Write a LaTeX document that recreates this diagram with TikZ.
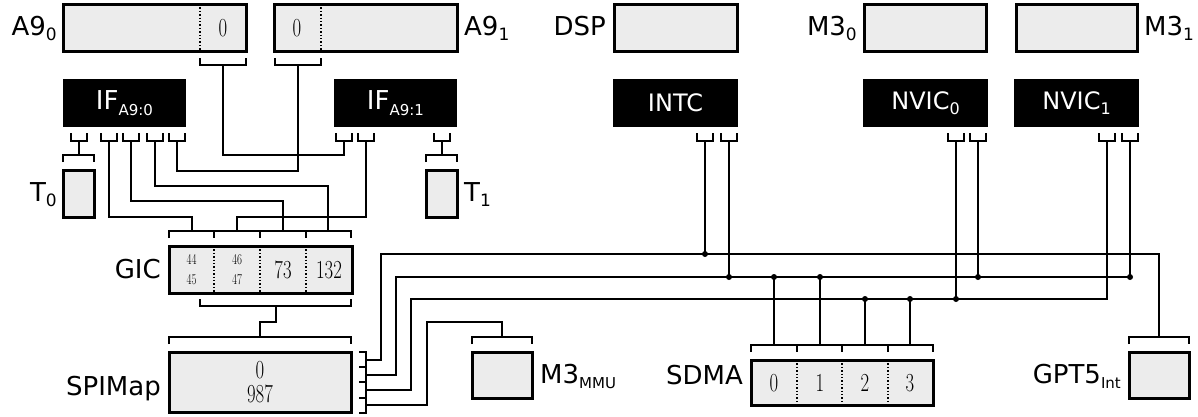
\documentclass[tikz,border=0pt]{standalone}
\usepackage{fontspec}
\newfontfamily\lab{DejaVu Sans}
\definecolor{boxgray}{RGB}{236,236,236}
\newcommand\sub[2][17]{\raisebox{-0.22em}{\fontsize{#1}{#1}\selectfont #2}}
\newcommand\num[2][26]{\scalebox{0.72}[1]{\fontsize{#1}{#1}\selectfont #2}}
\newcommand\mkbox[7]{\node[#1, minimum width={(#4)-(#2)}, minimum height={(#5)-(#3)}] (#6) at ({((#2)+(#4))/2},{((#3)+(#5))/2}) {#7};}
\newcommand\brdown[3]{\draw[wire] (#1,{#3+7}) -- (#1,#3) -- (#2,#3) -- (#2,{#3+7});}
\newcommand\brup[3]{\draw[wire] (#1,{#3-7}) -- (#1,#3) -- (#2,#3) -- (#2,{#3-7});}
\begin{document}
\begin{tikzpicture}[x=1pt,y=-1pt,
 gbox/.style={draw, line width=3pt, fill=boxgray, inner sep=0pt},
 bbox/.style={fill=black, text=white, inner sep=0pt, font=\lab\fontsize{24}{24}\selectfont},
 wire/.style={line width=2.4pt},
 divider/.style={line width=1.4pt, dotted},
 lab/.style={font=\lab\fontsize{26}{26}\selectfont, inner sep=0pt},
 port/.pic={\draw[wire] (-8,0) -- (-8,8) -- (8,8) -- (8,0); \coordinate (-c) at (0,8);},
]
\useasboundingbox (0,0) rectangle (1198,416);
% boxes
\mkbox{gbox}{63}{4}{246}{51}{a90}{}
\draw[divider] (200,4) -- (200,51);
\node (a90n) at (223,28) {\num{0}};
\mkbox{gbox}{274}{4}{457}{51}{a91}{}
\draw[divider] (321,4) -- (321,51);
\node (a91n) at (297,28) {\num{0}};
\mkbox{gbox}{614}{4}{737}{51}{dsp}{}
\mkbox{gbox}{864}{4}{986}{51}{m30}{}
\mkbox{gbox}{1016}{4}{1137}{51}{m31}{}
\mkbox{bbox}{63}{79}{186}{127}{if0}{\fontsize{26}{26}\selectfont IF\sub[15]{A9:0}}
\mkbox{bbox}{334}{79}{457}{127}{if1}{\fontsize{26}{26}\selectfont IF\sub[15]{A9:1}}
\mkbox{bbox}{613}{79}{738}{127}{intc}{INTC}
\mkbox{bbox}{863}{79}{988}{127}{nvic0}{NVIC\sub[16]{0}}
\mkbox{bbox}{1014}{79}{1139}{127}{nvic1}{NVIC\sub[16]{1}}
\mkbox{gbox}{63}{170}{94}{217}{t0}{}
\mkbox{gbox}{426}{170}{457}{217}{t1}{}
\mkbox{gbox}{169}{246}{352}{293}{gic}{}
\foreach \x in {214,260,306} \draw[divider] (\x,246) -- (\x,293);
\node (g44) at (191.5,259.5) {\num[15]{44}};
\node (g45) at (191.5,279.5) {\num[15]{45}};
\node (g46) at (237,259.5) {\num[15]{46}};
\node (g47) at (237,279.5) {\num[15]{47}};
\node (g73) at (283,270) {\num{73}};
\node (g132) at (329,270) {\num{132}};
\mkbox{gbox}{169}{352}{351}{412}{spi}{}
\node (s0) at (260,370) {\num{0}};
\node (s987) at (260,394) {\num{987}};
\mkbox{gbox}{472}{352}{532}{398}{mmu}{}
\mkbox{gbox}{751}{360}{933}{405}{sdma}{}
\foreach \x in {797,842,888} \draw[divider] (\x,360) -- (\x,405);
\node (sd0n) at (774,383) {\num{0}};
\node (sd1n) at (820,383) {\num{1}};
\node (sd2n) at (865,383) {\num{2}};
\node (sd3n) at (910,383) {\num{3}};
\mkbox{gbox}{1129}{352}{1189}{398}{gpt}{}
% labels
\node[lab, anchor=base east] (la90) at (57,35) {A9\sub{0}};
\node[lab, anchor=base west] (la91) at (464,35) {A9\sub{1}};
\node[lab, anchor=base east] (ldsp) at (606,35) {DSP};
\node[lab, anchor=base east] (lm30) at (857,35) {M3\sub{0}};
\node[lab, anchor=base west] (lm31) at (1144,35) {M3\sub{1}};
\node[lab, anchor=base east] (lt0) at (57,201) {T\sub{0}};
\node[lab, anchor=base west] (lt1) at (464,201) {T\sub{1}};
\node[lab, anchor=base east] (lgic) at (161,278) {GIC};
\node[lab, anchor=base east] (lspi) at (161,395) {SPIMap};
\node[lab, anchor=base west] (lmmu) at (540,383) {M3\sub[15]{MMU}};
\node[lab, anchor=base east] (lsdma) at (743,384) {SDMA};
\node[lab, anchor=base east] (lgpt) at (1121,383) {GPT5\sub[15]{Int}};
% brackets
\brdown{63}{94}{155}
\brdown{426}{457}{155}
\brdown{169}{351}{231}
\foreach \x in {214,260,306} \draw[wire] (\x,231) -- (\x,238);
\brdown{169}{351}{337}
\brdown{472}{532}{337}
\brdown{751}{933}{345}
\foreach \x in {797,842,888} \draw[wire] (\x,345) -- (\x,352);
\brdown{1129}{1189}{337}
\brup{200}{246}{65}
\brup{275}{321}{65}
\brup{200}{351}{306}
\draw[wire] (359,352) -- (366,352) -- (366,413) -- (359,413);
\foreach \y in {367,382,398} \draw[wire] (359,\y) -- (366,\y);
% coordinates
\coordinate (a90b) at (223,65);
\coordinate (a91b) at (298,65);
\coordinate (t0b) at (79,155);
\coordinate (t1b) at (442,155);
\coordinate (gic1) at (192,231);
\coordinate (gic2) at (237,231);
\coordinate (gic3) at (283,231);
\coordinate (gic4) at (328,231);
\coordinate (gicb) at (276,306);
\coordinate (spit) at (260,337);
\coordinate (mmut) at (502,337);
\coordinate (gptt) at (1159,337);
\coordinate (sd0) at (774,345);
\coordinate (sd1) at (820,345);
\coordinate (sd2) at (865,345);
\coordinate (sd3) at (910,345);
\coordinate (spo1) at (366,360);
\coordinate (spo2) at (366,375);
\coordinate (spo3) at (366,390);
\coordinate (spo4) at (366,405);
\coordinate (j1) at (705,254);
\coordinate (j2) at (729,277);
\coordinate (j3) at (774,277);
\coordinate (j4) at (820,277);
\coordinate (j5) at (865,299);
\coordinate (j6) at (910,299);
\coordinate (j7) at (956,299);
\coordinate (j8) at (978,277);
\coordinate (j9) at (1130,277);
% ports
\pic (f1) at (79,133) {port};
\pic (f2) at (109,133) {port};
\pic (f3) at (131,133) {port};
\pic (f4) at (155,133) {port};
\pic (f5) at (177,133) {port};
\pic (g1) at (344,133) {port};
\pic (g2) at (366,133) {port};
\pic (g3) at (442,133) {port};
\pic (i1) at (705,133) {port};
\pic (i2) at (729,133) {port};
\pic (n1) at (956,133) {port};
\pic (n2) at (978,133) {port};
\pic (m1) at (1107,133) {port};
\pic (m2) at (1130,133) {port};
% wires
\draw[wire] (a90b) -- ++(0,90) -| (g1-c);
\draw[wire] (a91b) -- ++(0,106) -| (f5-c);
\draw[wire] (f1-c) -- (t0b);
\draw[wire] (f2-c) -- ++(0,76) -| (gic1);
\draw[wire] (f3-c) -- ++(0,60) -| (gic3);
\draw[wire] (f4-c) -- ++(0,45) -| (gic4);
\draw[wire] (g2-c) -- ++(0,76) -| (gic2);
\draw[wire] (g3-c) -- (t1b);
\draw[wire] (gicb) -- ++(0,16) -| (spit);
\draw[wire] (spo1) -- ++(15,0) |- (j1) -| (gptt);
\draw[wire] (spo2) -- ++(30,0) |- (j9);
\draw[wire] (spo3) -- ++(45,0) |- (j7) -| (m1-c);
\draw[wire] (spo4) -- ++(61,0) -- ++(0,-83) -| (mmut);
\draw[wire] (i1-c) -- (j1);
\draw[wire] (i2-c) -- (j2);
\draw[wire] (n1-c) -- (j7);
\draw[wire] (n2-c) -- (j8);
\draw[wire] (m2-c) -- (j9);
\draw[wire] (j3) -- (sd0);
\draw[wire] (j4) -- (sd1);
\draw[wire] (j5) -- (sd2);
\draw[wire] (j6) -- (sd3);
\foreach \j in {j1,j2,j3,j4,j5,j6,j7,j8,j9} \fill (\j) circle (3pt);
\end{tikzpicture}
\end{document}
